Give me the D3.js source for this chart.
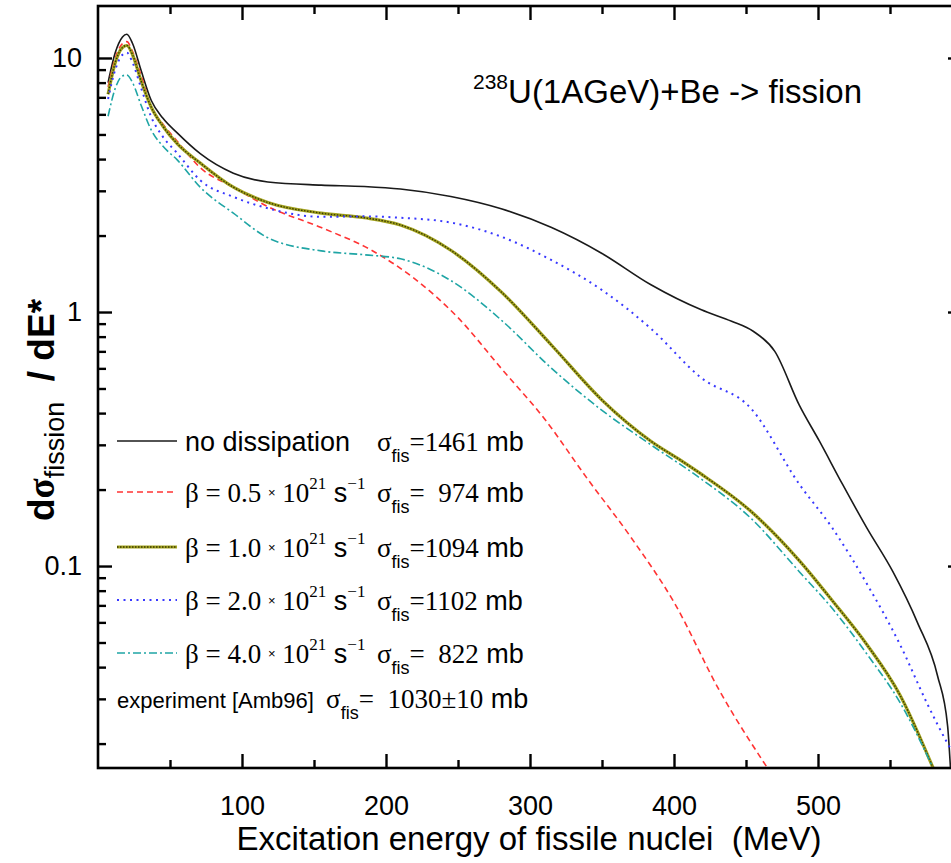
<!DOCTYPE html>
<html>
<head>
<meta charset="utf-8">
<script src="https://cdn.jsdelivr.net/npm/d3@7"></script>
<style>
body { margin: 0; background: #fff; }
text { font-family: "Liberation Sans", Arial, sans-serif; fill: #000; }
.serif { font-family: "Liberation Serif", "Times New Roman", serif; }
</style>
</head>
<body>
<svg id="chart" width="951" height="863"></svg>
<script>
// excitation energy (MeV) , dsigma/dE*
const noDissipation = [[7,8.0],[12,10.5],[17,12.1],[20,12.4],[24,11.4],[30,8.9],[37,6.8],[45,5.8],[55,5.07],[71,4.2],[94,3.52],[118,3.25],[155,3.16],[185,3.12],[210,3.05],[245,2.85],[280,2.55],[315,2.15],[350,1.7],[384,1.28],[419,1.02],[440,0.92],[455,0.84],[470,0.7],[487,0.43],[501,0.31],[517,0.21],[534,0.141],[552,0.095],[569,0.06],[583,0.037],[590,0.0235],[592,0.016]];
const beta05 = [[7,7.7],[12,10.0],[17,11.4],[20,11.6],[24,10.6],[30,8.5],[37,6.4],[45,5.5],[55,4.7],[71,3.7],[94,3.1],[118,2.6],[155,2.15],[190,1.75],[220,1.35],[250,0.95],[280,0.6],[310,0.38],[340,0.22],[370,0.13],[400,0.072],[432,0.032],[465,0.016]];
const beta10 = [[7,7.2],[12,9.6],[17,11.0],[20,11.2],[24,10.3],[30,8.1],[37,6.4],[45,5.4],[55,4.6],[71,3.86],[94,3.1],[118,2.7],[155,2.45],[185,2.35],[210,2.2],[245,1.75],[280,1.2],[315,0.74],[350,0.45],[384,0.31],[405,0.26],[419,0.23],[453,0.165],[487,0.105],[510,0.073],[534,0.049],[557,0.031],[580,0.016]];
const beta20 = [[7,6.9],[12,9.0],[17,10.3],[20,10.5],[24,9.6],[30,7.6],[37,5.85],[45,4.9],[55,4.22],[71,3.3],[94,2.84],[118,2.56],[155,2.37],[185,2.38],[210,2.35],[245,2.25],[280,1.98],[315,1.6],[350,1.22],[384,0.86],[419,0.55],[453,0.42],[487,0.21],[510,0.141],[534,0.085],[557,0.049],[576,0.0286],[590,0.02],[600,0.016]];
const beta40 = [[7,5.9],[12,7.6],[17,8.5],[20,8.57],[24,8.0],[30,6.5],[37,5.2],[45,4.5],[55,3.97],[71,3.1],[94,2.45],[118,1.96],[155,1.74],[185,1.68],[210,1.62],[245,1.33],[280,0.93],[315,0.6],[350,0.41],[384,0.3],[419,0.22],[453,0.155],[487,0.095],[510,0.068],[534,0.045],[557,0.029],[580,0.016]];

const betaLabels = ["0.5", "1.0", "2.0", "4.0"];
const sigmaLabels = ["=1461", "=  974", "=1094", "=1102", "=  822"];
const experimentSigma = "=  1030\u00B110";

const xMajorTicks = [100, 200, 300, 400, 500];
const xMinorTicks = [50, 150, 250, 350, 450, 550];
const yMajorTicks = [0.1, 1, 10];
const yMinorTicks = [0.02,0.03,0.04,0.05,0.06,0.07,0.08,0.09,0.2,0.3,0.4,0.5,0.6,0.7,0.8,0.9,2,3,4,5,6,7,8,9];

const svg = d3.select("#chart");
const mLeft = 98, mRight = 962, mTop = 6, mBottom = 768;

var x = d3.scaleLinear().domain([0, 600]).range([mLeft, mRight]);
var y = d3.scaleLog().domain([0.01603, 16.02]).range([mBottom, mTop]);

// curves
svg.append("clipPath").attr("id", "plotClip")
  .append("rect").attr("x", mLeft).attr("y", mTop).attr("width", mRight - mLeft).attr("height", mBottom - mTop);

const line = d3.line()
  .x(d => x(d[0]))
  .y(d => y(d[1]))
  .curve(d3.curveMonotoneX);

const series = [
  { data: noDissipation, stroke: "#1a1a1a", width: 1.6, dash: null },
  { data: beta05, stroke: "#ff3333", width: 1.6, dash: "6,4" },
  { data: beta10, stroke: "#a3a320", width: 3.2, dash: null, overlay: "#3a3a00" },
  { data: beta20, stroke: "#3838ff", width: 2, dash: "2,4.5" },
  { data: beta40, stroke: "#1fa5a5", width: 1.6, dash: "8,3,2,3" }
];

const curves = svg.append("g").attr("clip-path", "url(#plotClip)");
series.forEach(s => {
  curves.append("path")
    .attr("d", line(s.data))
    .attr("fill", "none")
    .attr("stroke", s.stroke)
    .attr("stroke-width", s.width)
    .attr("stroke-dasharray", s.dash);
  if (s.overlay) {
    curves.append("path")
      .attr("d", line(s.data))
      .attr("fill", "none")
      .attr("stroke", s.overlay)
      .attr("stroke-width", 1.4)
      .attr("stroke-dasharray", "1.5,1.5");
  }
});

// axes, ticks point inwards
function styleAxis(g) {
  g.select(".domain").remove();
  g.selectAll(".tick line").attr("stroke", "#000").attr("stroke-width", 2.4);
}

svg.append("g").attr("transform", `translate(0,${mBottom})`)
  .call(d3.axisBottom(x).tickValues(xMajorTicks).tickSize(-14).tickPadding(28).tickFormat(d3.format("d")))
  .call(styleAxis)
  .call(g => g.selectAll("text").attr("font-size", 27).attr("font-family", "Liberation Sans, Arial, sans-serif"));
svg.append("g").attr("transform", `translate(0,${mBottom})`)
  .call(d3.axisBottom(x).tickValues(xMinorTicks).tickSize(-8).tickFormat(""))
  .call(styleAxis);
svg.append("g").attr("transform", `translate(0,${mTop})`)
  .call(d3.axisTop(x).tickValues(xMajorTicks).tickSize(-14).tickFormat(""))
  .call(styleAxis);
svg.append("g").attr("transform", `translate(0,${mTop})`)
  .call(d3.axisTop(x).tickValues(xMinorTicks).tickSize(-8).tickFormat(""))
  .call(styleAxis);

svg.append("g").attr("transform", `translate(${mLeft},0)`)
  .call(d3.axisLeft(y).tickValues(yMajorTicks).tickSize(-14).tickPadding(16).tickFormat(d => d3.format("~g")(d)))
  .call(styleAxis)
  .call(g => g.selectAll("text").attr("font-size", 27).attr("font-family", "Liberation Sans, Arial, sans-serif"));
svg.append("g").attr("transform", `translate(${mLeft},0)`)
  .call(d3.axisLeft(y).tickValues(yMinorTicks).tickSize(-8).tickFormat(""))
  .call(styleAxis);
svg.append("g").attr("transform", `translate(${mRight},0)`)
  .call(d3.axisRight(y).tickValues(yMajorTicks).tickSize(-14).tickFormat(""))
  .call(styleAxis);

// frame
svg.append("rect")
  .attr("x", mLeft).attr("y", mTop)
  .attr("width", mRight - mLeft).attr("height", mBottom - mTop)
  .attr("fill", "none").attr("stroke", "#000").attr("stroke-width", 2.6);

// axis titles
svg.append("text")
  .attr("x", 529).attr("y", 850)
  .attr("text-anchor", "middle")
  .attr("font-size", 33)
  .style("white-space", "pre")
  .text("Excitation energy of fissile nuclei  (MeV)");

var yTitle = svg.append("text")
  .attr("transform", "translate(54,410) rotate(-90)")
  .attr("text-anchor", "middle")
  .attr("font-size", 37)
  .attr("font-weight", "bold")
  .style("white-space", "pre");
yTitle.append("tspan").text("d");
yTitle.append("tspan").attr("class", "serif").text("\u03C3");
yTitle.append("tspan").attr("font-size", 27).attr("font-weight", "normal").attr("dy", 10).text("fission");
yTitle.append("tspan").attr("dy", -10).text("  / dE*");

// plot title
var title = svg.append("text").attr("x", 473).attr("y", 103).attr("font-size", 33);
title.append("tspan").attr("font-size", 21).attr("dy", -14).text("238");
title.append("tspan").attr("dy", 14).text("U(1AGeV)+Be -> fission");

// legend
const legendRows = [441, 492, 547, 600, 653];
const legend = svg.append("g");

series.forEach((s, i) => {
  const ly = legendRows[i];
  legend.append("line")
    .attr("x1", 117).attr("x2", 177).attr("y1", ly).attr("y2", ly)
    .attr("stroke", s.stroke).attr("stroke-width", s.width)
    .attr("stroke-dasharray", s.dash);
  if (s.overlay) {
    legend.append("line")
      .attr("x1", 117).attr("x2", 177).attr("y1", ly).attr("y2", ly)
      .attr("stroke", s.overlay).attr("stroke-width", 1.4)
      .attr("stroke-dasharray", "1.5,1.5");
  }

  const t = legend.append("text").attr("x", 185).attr("y", ly + 10).attr("font-size", 27).style("white-space", "pre");
  if (i === 0) {
    t.text("no dissipation");
  } else {
    t.append("tspan").attr("class", "serif").text("\u03B2 = " + betaLabels[i - 1] + " ");
    t.append("tspan").attr("font-size", 13).attr("dy", -5).text("\u00D7");
    t.append("tspan").attr("class", "serif").attr("dy", 5).text(" 10");
    t.append("tspan").attr("class", "serif").attr("font-size", 17).attr("dy", -13).text("21");
    t.append("tspan").attr("dy", 13).text(" s");
    t.append("tspan").attr("class", "serif").attr("font-size", 17).attr("dy", -13).text("\u22121");
  }

  const sg = legend.append("text").attr("x", 377).attr("y", ly + 10).attr("font-size", 27).style("white-space", "pre");
  sg.append("tspan").attr("class", "serif").text("\u03C3");
  sg.append("tspan").attr("font-size", 18).attr("dy", 11).text("fis");
  sg.append("tspan").attr("class", "serif").attr("dy", -11).text(sigmaLabels[i]);
  sg.append("tspan").text(" mb");
});

const ex = legend.append("text").attr("x", 117).attr("y", 708).attr("font-size", 22).style("white-space", "pre");
ex.append("tspan").text("experiment [Amb96]  ");
ex.append("tspan").attr("class", "serif").attr("font-size", 27).text("\u03C3");
ex.append("tspan").attr("font-size", 18).attr("dy", 11).text("fis");
ex.append("tspan").attr("class", "serif").attr("font-size", 27).attr("dy", -11).text(experimentSigma);
ex.append("tspan").attr("font-size", 27).text(" mb");
</script>
</body>
</html>
